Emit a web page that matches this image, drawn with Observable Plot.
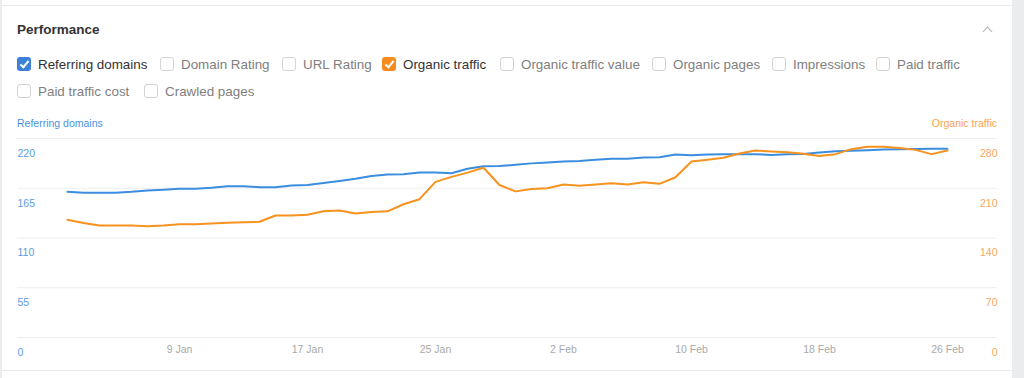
<!DOCTYPE html>
<html>
<head>
<meta charset="utf-8">
<script src="https://cdn.jsdelivr.net/npm/d3@7"></script>
<script src="https://cdn.jsdelivr.net/npm/@observablehq/plot@0.6"></script>
<style>
  html, body { margin: 0; padding: 0; }
  body { width: 1024px; height: 378px; position: relative; overflow: hidden; background: #fff;
         font-family: "Liberation Sans", Arial, Helvetica, sans-serif; }
  .strip-left { position: absolute; left: 0; top: 0; width: 2px; height: 378px; background: #ececee; }
  .strip-right { position: absolute; left: 1012px; top: 0; width: 12px; height: 378px; background: #ebecee; }
  .hline { position: absolute; left: 2px; width: 1010px; height: 1px; background: #e9e9e9; }
  .title { position: absolute; left: 17px; top: 21px; font-size: 13.5px; font-weight: 700; color: #333; line-height: 18px; }
  .chev { position: absolute; left: 984px; top: 28px; width: 6px; height: 6px;
          border-top: 1.5px solid #b5b5b5; border-left: 1.5px solid #b5b5b5; transform: rotate(45deg); }
  .item { position: absolute; height: 16px; display: flex; align-items: center; white-space: nowrap; }
  .box { width: 12px; height: 12px; border: 1px solid #d2d2d2; border-radius: 3px; background: #fff;
         position: relative; box-sizing: content-box; flex: none; }
  .box.on { border-color: transparent; }
  .box.on::after { content: ""; position: absolute; left: 4px; top: 1px; width: 3px; height: 7px;
         border-right: 2px solid #fff; border-bottom: 2px solid #fff; transform: rotate(40deg); }
  .lbl { margin-left: 7px; font-size: 13.4px; color: #808080; }
  .lbl.on { color: #333; }
  .axt { position: absolute; top: 116px; font-size: 10.5px; line-height: 14px; }
  #chart { position: absolute; left: 0; top: 110px; }
</style>
</head>
<body>
<div class="strip-left"></div>
<div class="strip-right"></div>
<div class="hline" style="top:5px"></div>
<div class="hline" style="top:370px"></div>
<div class="title">Performance</div>
<div class="chev"></div>
<div id="toggles"></div>
<div class="axt" style="left:17px;color:#4a90e2">Referring domains</div>
<div class="axt" style="right:27px;color:#f7a24f">Organic traffic</div>
<div id="chart"></div>
<script>
// ---- data ----
const dates = [
  "2023-01-02","2023-01-03","2023-01-04","2023-01-05","2023-01-06","2023-01-07","2023-01-08","2023-01-09",
  "2023-01-10","2023-01-11","2023-01-12","2023-01-13","2023-01-14","2023-01-15","2023-01-16","2023-01-17",
  "2023-01-18","2023-01-19","2023-01-20","2023-01-21","2023-01-22","2023-01-23","2023-01-24","2023-01-25",
  "2023-01-26","2023-01-27","2023-01-28","2023-01-29","2023-01-30","2023-01-31","2023-02-01","2023-02-02",
  "2023-02-03","2023-02-04","2023-02-05","2023-02-06","2023-02-07","2023-02-08","2023-02-09","2023-02-10",
  "2023-02-11","2023-02-12","2023-02-13","2023-02-14","2023-02-15","2023-02-16","2023-02-17","2023-02-18",
  "2023-02-19","2023-02-20","2023-02-21","2023-02-22","2023-02-23","2023-02-24","2023-02-25","2023-02-26"
];
const referringDomains = [
  161, 160, 160, 160, 161, 162.5, 163.3, 164.4, 164.4, 165.5,
  167.3, 167.3, 166.2, 166.2, 168, 168.5, 170.8, 173, 175.5, 178.5,
  180.2, 180.5, 182.5, 182.5, 181.5, 186.5, 189.3, 189.5, 190.9, 192.5,
  193.5, 194.5, 195, 196.4, 197.5, 197.5, 199, 199.2, 202.3, 201.5,
  202.3, 202.5, 202.5, 202.6, 201.8, 202.5, 203, 204.5, 205.8, 206.5,
  207, 207.8, 208, 208.3, 208.6, 208.6
];
const organicTraffic = [
  165.6, 161, 157.6, 157.6, 157.6, 156.6, 157.6, 159.4, 159.4, 160.4,
  161.4, 162, 162.8, 171.7, 171.7, 172.8, 177.5, 178.8, 174.5, 176.6,
  177.5, 187.5, 194.6, 219, 226, 232, 238.8, 214.5, 205.6, 209,
  210, 215.3, 213.4, 215.3, 217, 215.3, 218.5, 216.2, 225.5, 247.6,
  250, 252.8, 259, 263, 261.7, 260.8, 258.5, 255.3, 258, 265,
  268.3, 268.3, 266.5, 264, 258, 263
];
const leftTicks = [0, 55, 110, 165, 220];
const rightTicks = [0, 70, 140, 210, 280];
const xTickDates = ["2023-01-09","2023-01-17","2023-01-25","2023-02-02","2023-02-10","2023-02-18","2023-02-26"];

const toggleRow1 = ["Referring domains","Domain Rating","URL Rating","Organic traffic","Organic traffic value","Organic pages","Impressions","Paid traffic"];
const toggleRow2 = ["Paid traffic cost","Crawled pages"];
const checked = {"Referring domains": "#3d80d8", "Organic traffic": "#f68b1f"};

// ---- toggles (HTML) ----
const row1Left = [17, 160, 282, 382, 500, 652, 772, 876];
const row2Left = [17, 144];
const tg = document.getElementById("toggles");
function addItem(name, left, cy) {
  const it = document.createElement("div");
  it.className = "item";
  it.style.left = left + "px";
  it.style.top = (cy - 8) + "px";
  const b = document.createElement("div");
  b.className = "box" + (checked[name] ? " on" : "");
  if (checked[name]) b.style.background = checked[name];
  const l = document.createElement("span");
  l.className = "lbl" + (checked[name] ? " on" : "");
  l.textContent = name;
  it.appendChild(b); it.appendChild(l);
  tg.appendChild(it);
}
toggleRow1.forEach((n, i) => addItem(n, row1Left[i], 64));
toggleRow2.forEach((n, i) => addItem(n, row2Left[i], 91));

// ---- chart ----
const leftMax = leftTicks[leftTicks.length - 1];
const rightMax = rightTicks[rightTicks.length - 1];
const rows = dates.map((d, i) => ({
  date: new Date(d),
  rd: referringDomains[i],
  ot: organicTraffic[i] * leftMax / rightMax
}));

const chart = Plot.plot({
  width: 1024,
  height: 260,
  marginLeft: 17,
  marginRight: 27,
  marginTop: 28,
  marginBottom: 33,
  style: {fontFamily: "'Liberation Sans', Arial, sans-serif", fontSize: "10.5px", background: "transparent", overflow: "visible"},
  x: {type: "utc", domain: [new Date(dates[0]), new Date(dates[dates.length - 1])], insetLeft: 50, insetRight: 50},
  y: {domain: [0, leftMax]},
  marks: [
    Plot.gridY(leftTicks, {stroke: "#ededed", strokeOpacity: 1}),
    Plot.axisY(leftTicks, {anchor: "left", tickSize: 0, tickPadding: 0, textAnchor: "start", dy: 15, fill: "#5b9be3", label: null}),
    Plot.axisY(leftTicks, {anchor: "right", tickSize: 0, tickPadding: 0, textAnchor: "end", dy: 15, fill: "#f7a65e", label: null,
      tickFormat: d => rightTicks[leftTicks.indexOf(d)]}),
    Plot.axisX(xTickDates.map(d => new Date(d)), {tickSize: 0, tickPadding: 8, fill: "#a9a9a9", label: null,
      tickFormat: d3.utcFormat("%-d %b")}),
    Plot.lineY(rows, {x: "date", y: "rd", stroke: "#3b8de0", strokeWidth: 2}),
    Plot.lineY(rows, {x: "date", y: "ot", stroke: "#f7921e", strokeWidth: 2})
  ]
});
document.getElementById("chart").appendChild(chart);
</script>
</body>
</html>
